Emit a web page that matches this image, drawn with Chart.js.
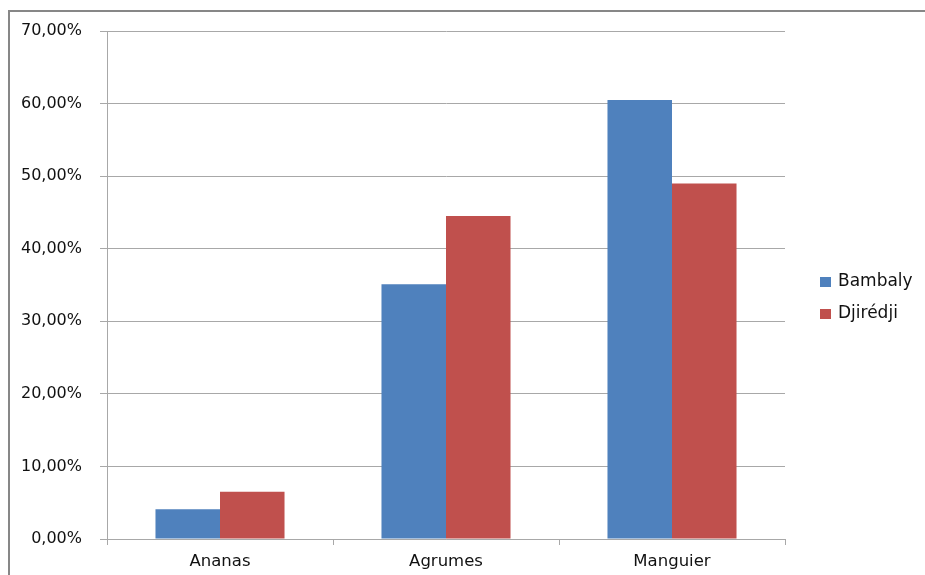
<!DOCTYPE html>
<html>
<head>
<meta charset="utf-8">
<script src="https://cdn.jsdelivr.net/npm/chart.js@4"></script>
<style>
  html, body { margin: 0; padding: 0; background: #fff; }
  #wrap { width: 925px; height: 575px; }
</style>
</head>
<body>
<div id="wrap"><canvas id="chart" width="925" height="575"></canvas></div>
<script>
// Share of trees by type in each village (percent)
const categories = ['Ananas', 'Agrumes', 'Manguier'];
const seriesNames = ['Bambaly', 'Djirédji'];
const bambaly = [4.1, 35.1, 60.5];
const djiredji = [6.5, 44.5, 49.0];
const yTicks = [0, 10, 20, 30, 40, 50, 60, 70];

const seriesColors = ['#4F81BD', '#C0504D'];
const FONT = 'DejaVu Sans';
const gridColor = '#a8a8a8';
const textColor = '#111111';

function fmtPct(v) {
  return v.toFixed(2).replace('.', ',') + '%';
}

// Frame along the left and top edges of the figure
const framePlugin = {
  id: 'frame',
  beforeDraw(chart) {
    const ctx = chart.ctx;
    ctx.save();
    ctx.fillStyle = '#ffffff';
    ctx.fillRect(0, 0, chart.width, chart.height);
    ctx.strokeStyle = '#878787';
    ctx.lineWidth = 2;
    ctx.beginPath();
    ctx.moveTo(9, chart.height);
    ctx.lineTo(9, 11);
    ctx.lineTo(chart.width, 11);
    ctx.stroke();
    ctx.restore();
  }
};

// Legend at the right, built from the datasets
const sideLegend = {
  id: 'sideLegend',
  afterDraw(chart, args, opts) {
    const ctx = chart.ctx;
    ctx.save();
    ctx.font = '17px "' + FONT + '"';
    ctx.textBaseline = 'middle';
    ctx.textAlign = 'left';
    chart.data.datasets.forEach((ds, i) => {
      const cy = opts.y + i * opts.spacing;
      ctx.fillStyle = ds.backgroundColor;
      ctx.fillRect(opts.x, cy - 5, 11, 10);
      ctx.fillStyle = textColor;
      ctx.fillText(ds.label, opts.x + 18, cy);
    });
    ctx.restore();
  }
};

new Chart(document.getElementById('chart'), {
  type: 'bar',
  data: {
    labels: categories,
    datasets: [
      { label: seriesNames[0], data: bambaly, backgroundColor: seriesColors[0] },
      { label: seriesNames[1], data: djiredji, backgroundColor: seriesColors[1] }
    ]
  },
  options: {
    responsive: false,
    animation: false,
    devicePixelRatio: 1,
    datasets: {
      bar: { barPercentage: 1.0, categoryPercentage: 0.571 }
    },
    layout: { padding: { left: 10, top: 31, right: 140, bottom: 0 } },
    plugins: {
      legend: { display: false },
      tooltip: { enabled: false },
      sideLegend: { x: 820, y: 282, spacing: 32 }
    },
    scales: {
      y: {
        min: 0,
        max: 70,
        afterBuildTicks(scale) {
          scale.ticks = yTicks.map(v => ({ value: v }));
        },
        afterFit(scale) { scale.width = 97; },
        ticks: {
          callback: v => fmtPct(v),
          color: textColor,
          font: { family: FONT, size: 16 },
          padding: 18
        },
        grid: { color: gridColor, tickLength: 7, lineWidth: 1 },
        border: { color: gridColor, width: 1 }
      },
      x: {
        afterFit(scale) { scale.height = 36; },
        ticks: {
          color: textColor,
          font: { family: FONT, size: 16.5 },
          padding: 7
        },
        grid: { color: gridColor, drawOnChartArea: false, offset: true, tickLength: 6 },
        border: { color: gridColor, width: 1 }
      }
    }
  },
  plugins: [framePlugin, sideLegend]
});
</script>
</body>
</html>
